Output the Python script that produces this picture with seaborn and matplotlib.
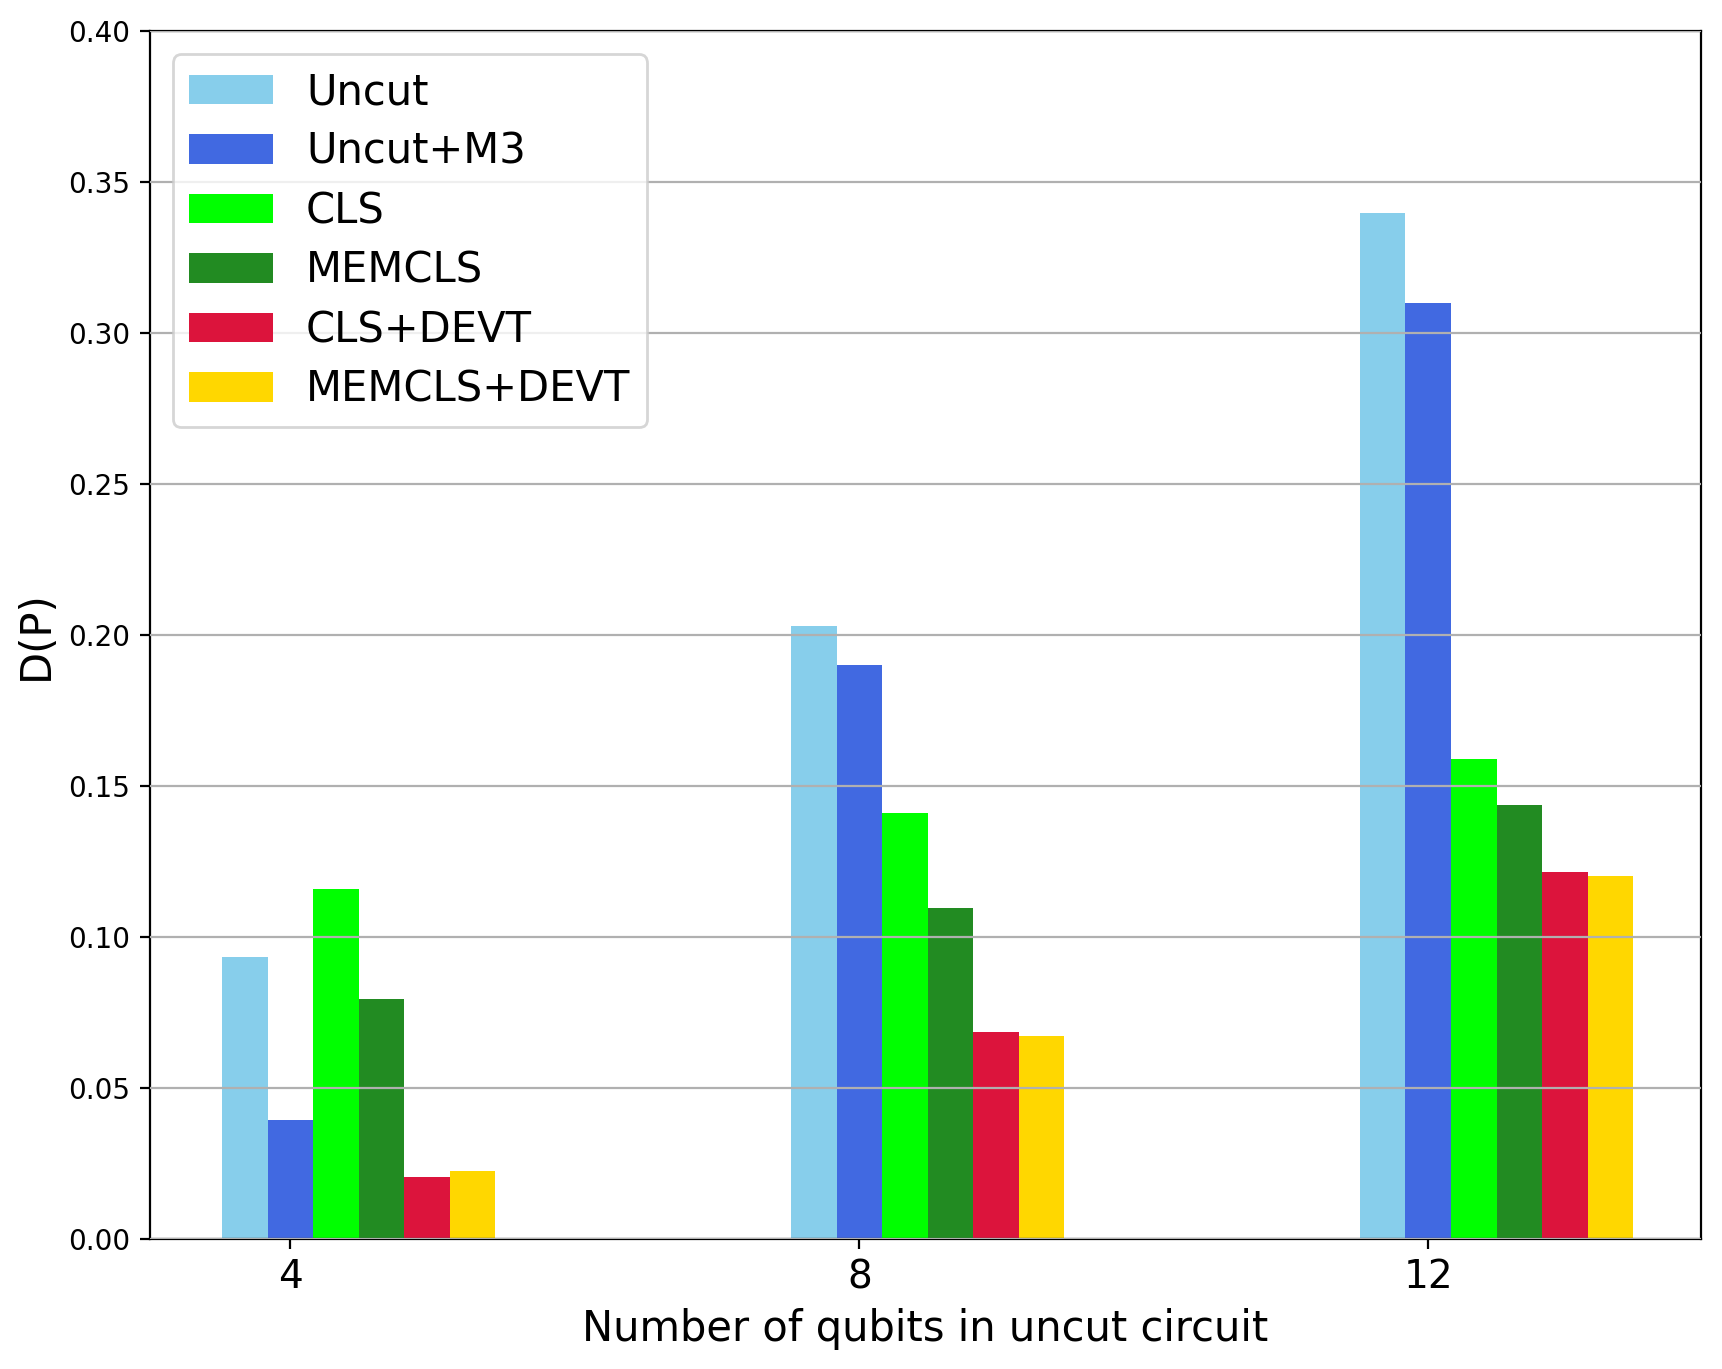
import numpy as np
import pandas as pd
import matplotlib.pyplot as plt
import seaborn as sns

qubits = ['4', '8', '12']
methods = ['Uncut', 'Uncut+M3', 'CLS', 'MEMCLS', 'CLS+DEVT', 'MEMCLS+DEVT']
colors = ['skyblue', 'royalblue', 'lime', 'forestgreen', 'crimson', 'gold']

uncut = [0.0934, 0.203, 0.340]
uncut_m3 = [0.0394, 0.190, 0.310]
cls = [0.1159, 0.141, 0.159]
memcls = [0.0795, 0.1096, 0.1436]
cls_devt = [0.0205, 0.0685, 0.1214]
memcls_devt = [0.0225, 0.0672, 0.1201]

series = [uncut, uncut_m3, cls, memcls, cls_devt, memcls_devt]
rows = []
for name, vals in zip(methods, series):
    for q, v in zip(qubits, vals):
        rows.append({'qubits': q, 'D': v, 'method': name})
df = pd.DataFrame(rows)

fig = plt.figure(figsize=(8.61, 6.845), dpi=200)
ax = fig.add_axes([0.087, 0.095, 0.901, 0.882])

sns.barplot(data=df, x='qubits', y='D', hue='method', order=qubits,
            hue_order=methods, palette=colors, width=0.48, saturation=1,
            errorbar=None, ax=ax)

# ticks sit on the second bar of each group
w = 0.48 / 6
ax.set_xticks(np.arange(len(qubits)) - 1.5 * w)
ax.set_xticklabels(qubits, fontsize=14)
ax.set_xlim(-1.5 * w - 0.247, len(qubits) - 1 - 1.5 * w + 0.48)
ax.set_ylim(0, 0.40)
ax.set_yticks(np.arange(0, 0.401, 0.05))
ax.yaxis.grid(True, color='#b0b0b0', linewidth=0.8)
ax.set_axisbelow(False)

ax.set_xlabel('Number of qubits in uncut circuit', fontsize=15)
ax.set_ylabel('D(P)', fontsize=15)

sns.move_legend(ax, 'upper left', fontsize=15, title=None, frameon=True,
                labelspacing=0.42, borderaxespad=0.55)

plt.savefig('out.png', dpi=200)
